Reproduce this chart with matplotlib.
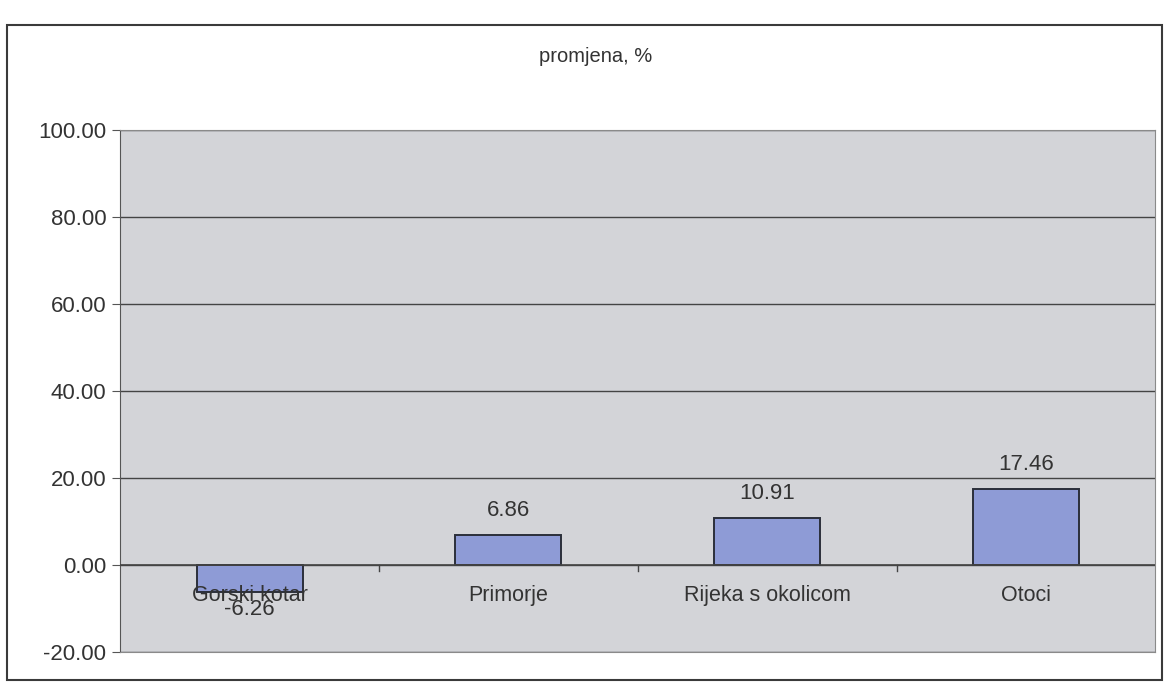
import numpy as np
import matplotlib.pyplot as plt
from matplotlib.patches import Rectangle

# -------------------------
# Data
# -------------------------

regions = ["Gorski kotar", "Primorje", "Rijeka s okolicom", "Otoci"]
change_pct = [-6.26, 6.86, 10.91, 17.46]
y_ticks = [-20, 0, 20, 40, 60, 80, 100]

plt.rcParams["font.family"] = ["Liberation Sans", "DejaVu Sans"]

fig = plt.figure(figsize=(11.67, 6.85), dpi=100)

# outer chart frame
fig.patches.append(Rectangle((0.006, 0.007), 0.99, 0.956, transform=fig.transFigure,
                             fill=False, edgecolor="#3a3a3a", linewidth=1.5))

ax = fig.add_axes([0.103, 0.048, 0.887, 0.762])
ax.set_facecolor("#d3d4d8")

x = np.arange(len(regions))
ax.bar(x, change_pct, width=0.41, color="#8e9bd6", edgecolor="#2b2f3a",
       linewidth=1.4, zorder=3)

ax.set_xlim(-0.5, len(regions) - 0.5)
ax.set_ylim(-20, 100)
ax.set_yticks(y_ticks)
ax.set_yticklabels([f"{v:.2f}" for v in y_ticks], fontsize=16, color="#333333")
ax.tick_params(axis="y", length=6, color="#555555", pad=4)
ax.grid(axis="y", color="#444444", linewidth=1.0, zorder=1)

# category axis sits on zero, with ticks between categories
ax.set_xticks([])
ax.axhline(0, color="#444444", linewidth=1.2, zorder=4)
for b in np.arange(0.5, len(regions) - 1, 1.0):
    ax.plot([b, b], [0, -1.3], color="#444444", linewidth=1.0, zorder=4)

for xi, name in zip(x, regions):
    ax.text(xi, -4.6, name, ha="center", va="top", fontsize=15.5,
            color="#333333", zorder=5)

for xi, v in zip(x, change_pct):
    if v >= 0:
        ax.text(xi, v + 3.2, f"{v:.2f}", ha="center", va="bottom",
                fontsize=16, color="#333333", zorder=5)
    else:
        ax.text(xi, v - 1.6, f"{v:.2f}", ha="center", va="top",
                fontsize=16, color="#333333", zorder=5)

for side in ["top", "right", "bottom"]:
    ax.spines[side].set_color("#8a8a8a")
ax.spines["left"].set_color("#555555")

fig.text(0.51, 0.918, "promjena, %", ha="center", va="center",
         fontsize=14.5, color="#333333")

fig.savefig("out.png", dpi=100)
